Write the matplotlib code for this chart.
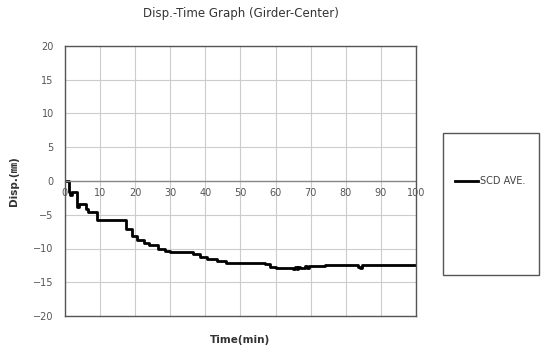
import matplotlib
matplotlib.use("Agg")
import matplotlib.pyplot as plt
from matplotlib.patches import Rectangle
from matplotlib.lines import Line2D

# step data (start time of each step, displacement)
time_min = [0, 1.1, 1.5, 2.0, 3.5, 4.0, 6.0, 6.5, 9.1, 17.5, 19.0, 20.5,
            22.5, 24.0, 26.4, 28.5, 30.0, 36.5, 38.6, 40.5, 43.2, 46.0,
            57.0, 58.5, 60.0, 62.0, 64.0, 65.0, 65.5, 66.0, 66.5, 67.0,
            68.5, 69.0, 69.5, 72.0, 74.0, 83.5, 84.0, 84.6, 100]
disp_mm = [0, -1.7, -2.1, -1.6, -3.9, -3.4, -4.2, -4.6, -5.85, -7.1, -8.1, -8.7,
           -9.2, -9.5, -10.0, -10.3, -10.5, -10.8, -11.2, -11.5, -11.9, -12.2,
           -12.35, -12.7, -12.85, -12.95, -12.85, -13.1, -12.8, -13.1, -12.7, -12.9,
           -12.6, -12.9, -12.55, -12.6, -12.5, -12.7, -12.9, -12.5, -12.5]

xticks = [0, 10, 20, 30, 40, 50, 60, 70, 80, 90, 100]
yticks = [20, 15, 10, 5, 0, -5, -10, -15, -20]

fonts = ['DejaVu Sans', 'Noto Sans CJK KR']
plt.rcParams['font.family'] = fonts

fig = plt.figure(figsize=(5.41, 3.5), dpi=100)
ax = fig.add_axes([0.120, 0.097, 0.649, 0.772])

ax.plot(time_min, disp_mm, drawstyle='steps-post', color='black', lw=2.0,
        label='SCD AVE.')
ax.set_xlim(0, 100)
ax.set_ylim(-20, 20)
ax.set_xticks(xticks)
ax.set_yticks(yticks)
ax.grid(True, color='#cccccc', lw=0.8)
ax.axhline(0, color='#888888', lw=1.0)
ax.tick_params(labelbottom=False, length=0)
ax.tick_params(axis='y', labelsize=7, labelcolor='#555555', pad=8)
for s in ax.spines.values():
    s.set_color('#555555')
    s.set_linewidth(1.0)

# x labels sit next to the zero line
for t in xticks:
    ax.text(t, -1.0, str(t), ha='center', va='top', fontsize=7, color='#555555')

ax.set_title('Disp.-Time Graph (Girder-Center)', fontsize=8.5, color='#333333', pad=21)
ax.set_xlabel('Time(min)', fontsize=7.5, fontweight='bold', color='#333333', labelpad=14)
ax.set_ylabel('Disp.(㎜)', fontsize=7.5, fontweight='bold', color='#333333', labelpad=10)

# legend box
fig.patches.append(Rectangle((443 / 541, 1 - 275 / 350), 96 / 541, 142 / 350,
                             transform=fig.transFigure, fill=False,
                             edgecolor='#555555', lw=1.0))
fig.lines.append(Line2D([455 / 541, 478 / 541], [1 - 181 / 350, 1 - 181 / 350],
                        transform=fig.transFigure, color='black', lw=2.0))
fig.text(480 / 541, 1 - 181 / 350, 'SCD AVE.', fontsize=7, color='#444444', va='center')

fig.savefig('out.png', dpi=100)
